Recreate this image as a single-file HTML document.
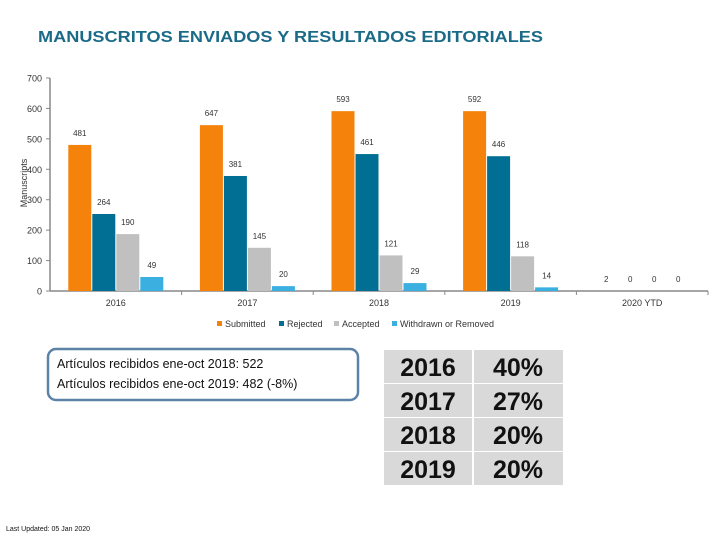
<!DOCTYPE html>
<html><head><meta charset="utf-8"><style>
body{margin:0;background:#fff;width:720px;height:540px;overflow:hidden;font-family:"Liberation Sans",sans-serif}
</style></head><body>
<svg id="c" width="720" height="540" xmlns="http://www.w3.org/2000/svg">
<text x="38" y="42" font-size="16" font-weight="bold" fill="#1b6b88" textLength="505" lengthAdjust="spacingAndGlyphs">MANUSCRITOS ENVIADOS Y RESULTADOS EDITORIALES</text>
<text transform="translate(27,183) rotate(-90)" text-anchor="middle" font-size="9" fill="#333">Manuscripts</text>
<g id="axes"></g><g id="bars"></g><g id="labels"></g>
<g font-size="9" fill="#333">
<rect x="217" y="321" width="5" height="5" fill="#f5820a"/><text x="225" y="327">Submitted</text>
<rect x="279" y="321" width="5" height="5" fill="#006f93"/><text x="287" y="327">Rejected</text>
<rect x="334" y="321" width="5" height="5" fill="#c0c0c0"/><text x="342" y="327">Accepted</text>
<rect x="392" y="321" width="5" height="5" fill="#3bb0e0"/><text x="400" y="327">Withdrawn or Removed</text>
</g>
<rect x="48" y="349" width="310" height="51" rx="8" fill="#fff" stroke="#5d82a8" stroke-width="2.5"/>
<text x="57" y="368" font-size="12.5" fill="#111">Artículos recibidos ene-oct 2018: 522</text>
<text x="57" y="388" font-size="12.5" fill="#111">Artículos recibidos ene-oct 2019: 482 (-8%)</text>
<g id="tbl"></g>
<text x="6" y="531" font-size="7" fill="#111">Last Updated: 05 Jan 2020</text>
</svg>
<script>
const categories=["2016","2017","2018","2019","2020 YTD"];
const submitted=[480,545,591,591,0];
const rejected=[253,378,450,443,0];
const accepted=[187,142,117,114,0];
const withdrawn=[46,16,26,12,0];
const submittedLabels=["481","647","593","592","2"];
const rejectedLabels=["264","381","461","446","0"];
const acceptedLabels=["190","145","121","118","0"];
const withdrawnLabels=["49","20","29","14","0"];
const yTicks=[0,100,200,300,400,500,600,700];
const tableYears=["2016","2017","2018","2019"];
const tableRates=["40%","27%","20%","20%"];
const NS="http://www.w3.org/2000/svg";
const x0=50,x1=708,yb=291,yt=78,vmax=700;
const y=v=>yb-(v/vmax)*(yb-yt);
const cw=(x1-x0)/categories.length;
const bw=23,gap=1;
function mk(t,a,p){const e=document.createElementNS(NS,t);for(const k in a)e.setAttribute(k,a[k]);p.appendChild(e);return e;}
const ax=document.getElementById('axes'),bg=document.getElementById('bars'),lg=document.getElementById('labels');
const yl=mk('line',{x1:x0,y1:yt,x2:x0,y2:yb,stroke:'#888','stroke-width':1.5},ax);


yTicks.forEach(t=>{
 mk('line',{x1:x0-4,y1:y(t),x2:x0,y2:y(t),stroke:'#888'},ax);
 const tx=mk('text',{x:x0-8,y:y(t)+3.5,'text-anchor':'end','font-size':9,fill:'#333'},ax);tx.textContent=t;
 
 
});
const xl=mk('line',{x1:x0,y1:yb,x2:x1,y2:yb,stroke:'#888','stroke-width':1.5},ax);


categories.forEach((c,i)=>{
 mk('line',{x1:x0+cw*(i+1),y1:yb,x2:x0+cw*(i+1),y2:yb+4,stroke:'#888'},ax);
 const tx=mk('text',{x:x0+cw*(i+0.5),y:yb+15,'text-anchor':'middle','font-size':9,fill:'#333'},ax);tx.textContent=c;
 
 
});
const series=[[submitted,submittedLabels,'#f5820a','submitted'],[rejected,rejectedLabels,'#006f93','rejected'],[accepted,acceptedLabels,'#c0c0c0','accepted'],[withdrawn,withdrawnLabels,'#3bb0e0','withdrawn']];
const gw=4*bw+3*gap;
categories.forEach((c,i)=>{
 series.forEach((s,j)=>{
  const bx=x0+cw*i+(cw-gw)/2+j*(bw+gap);
  const v=s[0][i];
  const r=mk('rect',{x:bx,y:y(v),width:bw,height:yb-y(v),fill:s[2]},bg);
  
  
  const t=mk('text',{x:bx+bw/2,y:y(v)-9,'text-anchor':'middle','font-size':8,fill:'#333'},lg);
  t.textContent=s[1][i];
  
  
 });
});
const tb=document.getElementById('tbl');
tableYears.forEach((yr,i)=>{
 const ry=350+i*34;
 const a=mk('rect',{x:384,y:ry,width:88,height:33,fill:'#d9d9d9'},tb);
 
 
 const b=mk('rect',{x:474,y:ry,width:89,height:33,fill:'#d9d9d9'},tb);
 
 
 const t1=mk('text',{x:428,y:ry+26,'text-anchor':'middle','font-size':25,'font-weight':'bold',fill:'#111'},tb);t1.textContent=yr;
 
 
 const t2=mk('text',{x:518,y:ry+26,'text-anchor':'middle','font-size':25,'font-weight':'bold',fill:'#111'},tb);t2.textContent=tableRates[i];
 
 
});
</script>
</body></html>
